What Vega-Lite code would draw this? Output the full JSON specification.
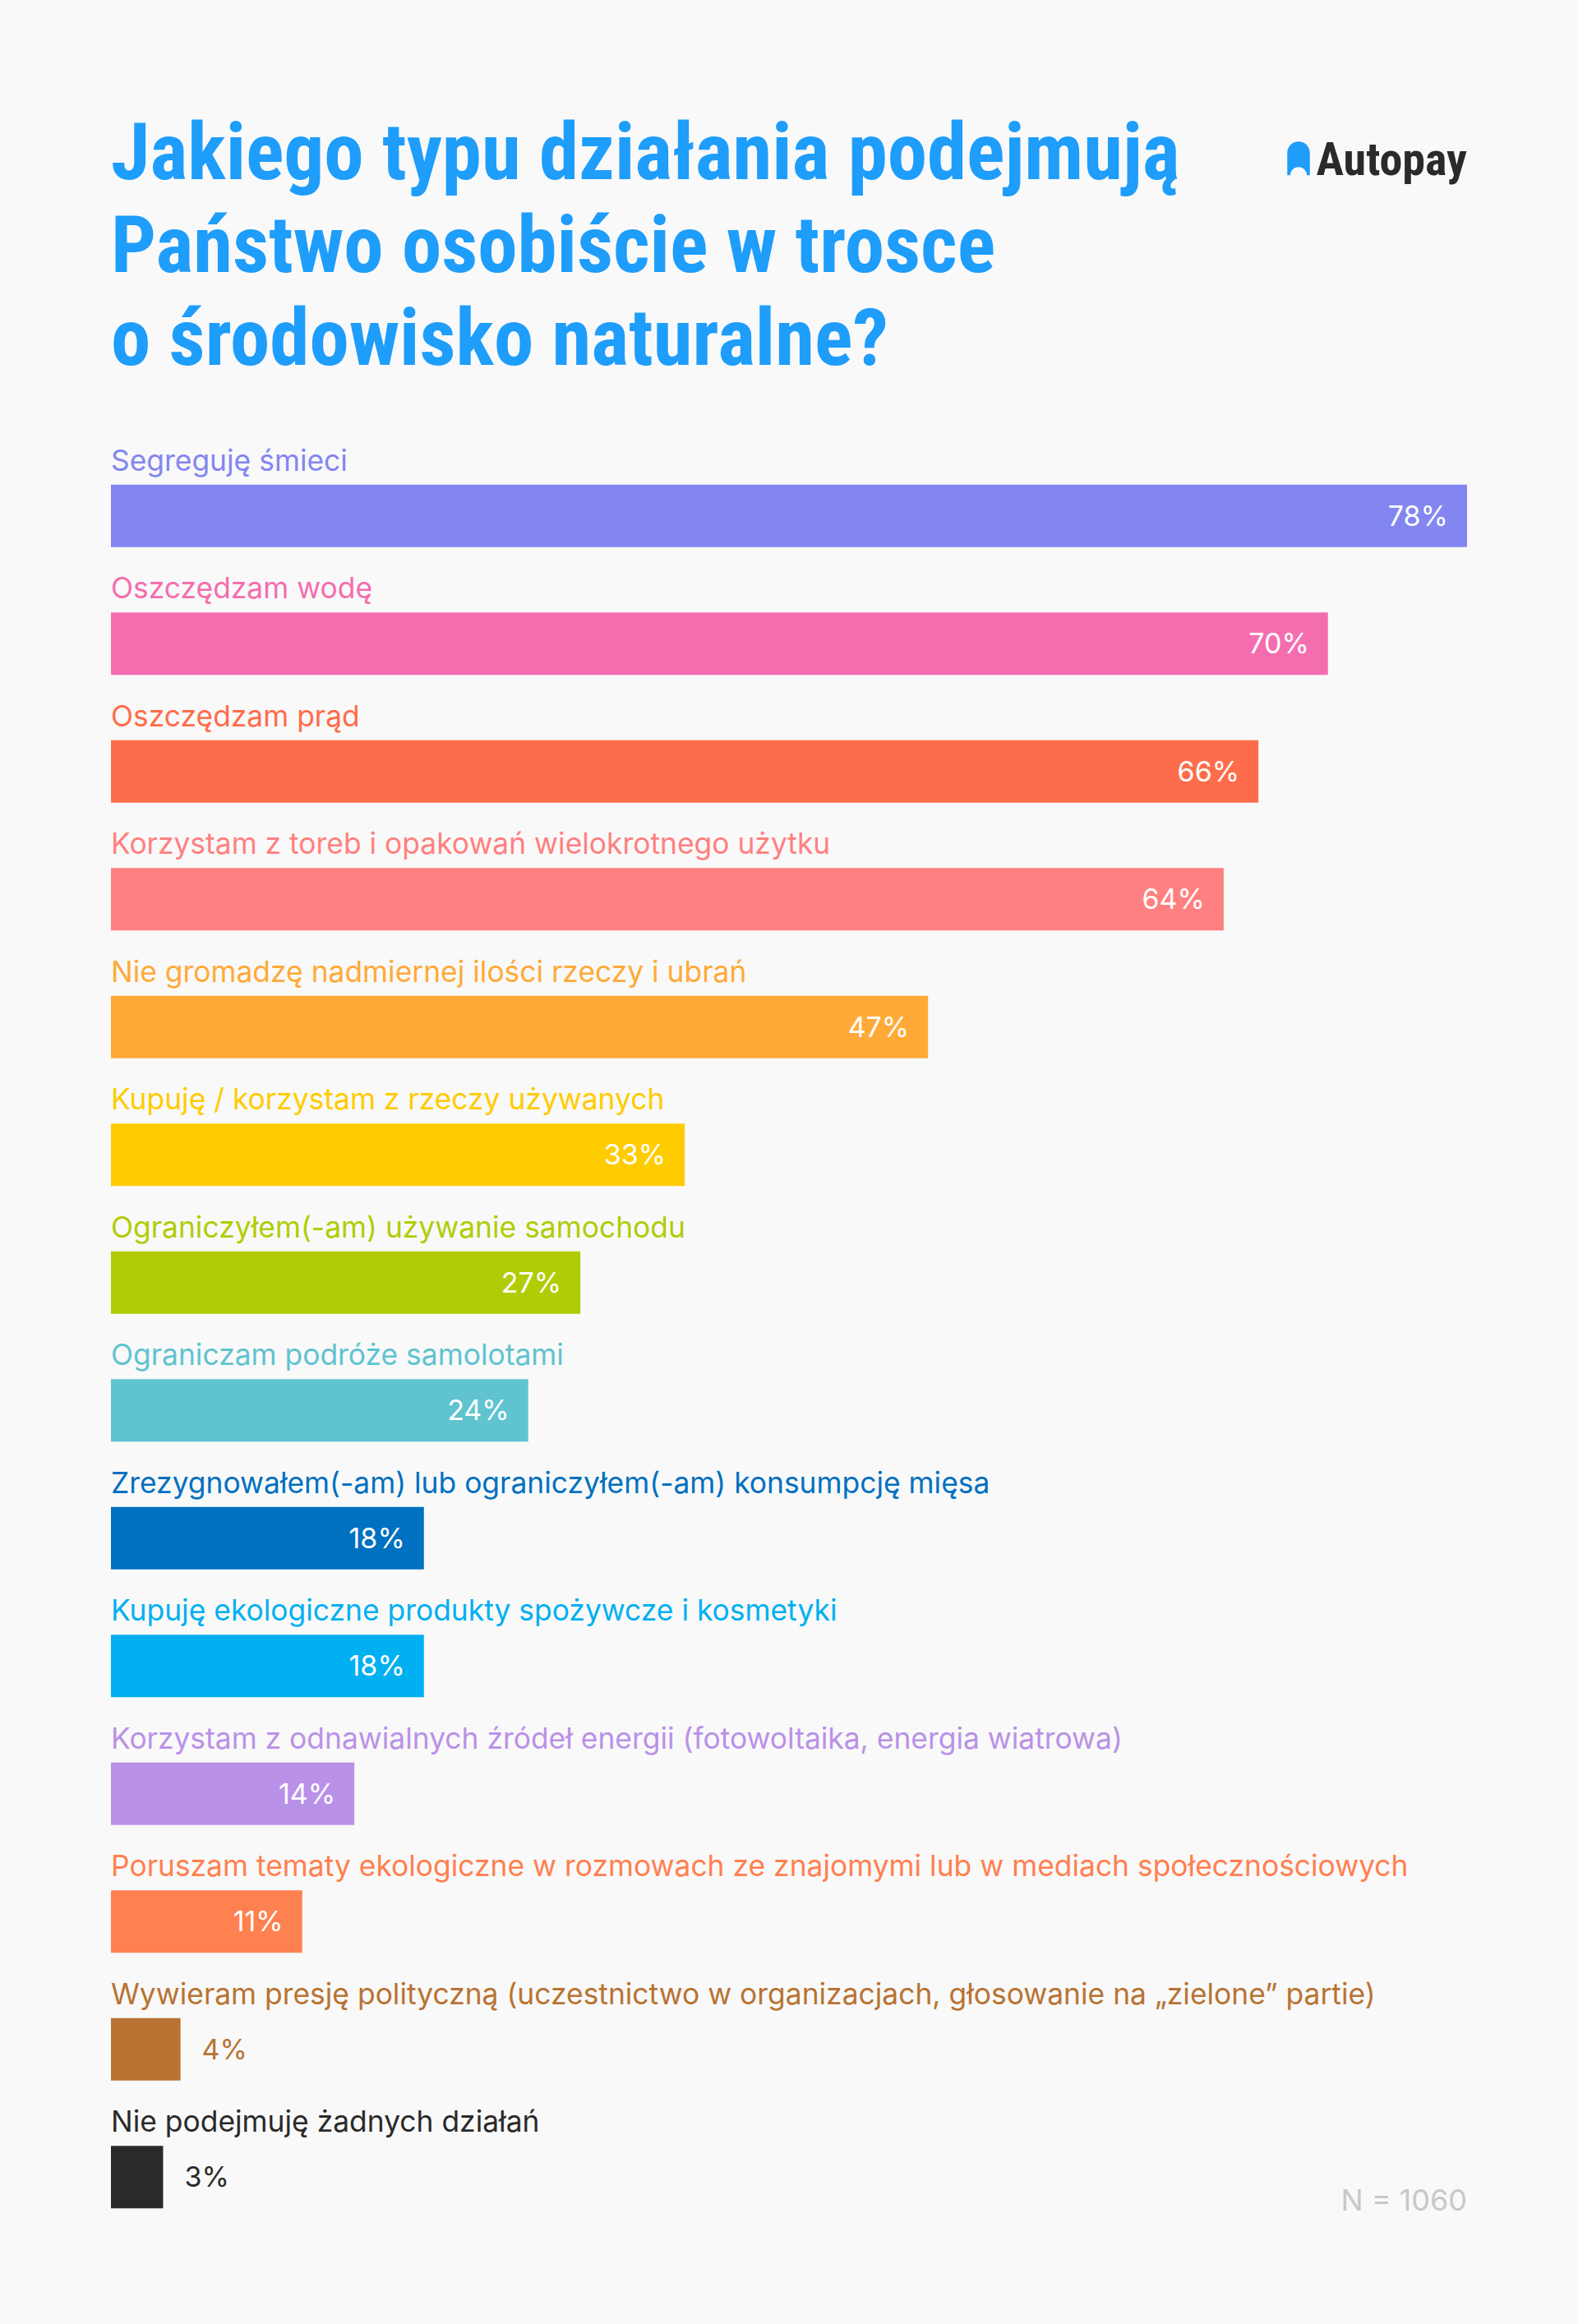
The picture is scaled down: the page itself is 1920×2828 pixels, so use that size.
{
  "$schema": "https://vega.github.io/schema/vega-lite/v6.json",
  "width": 1650,
  "height": {"step": 155.5},
  "autosize": {"type": "none"},
  "padding": {"left": 135, "top": 550, "right": 135, "bottom": 101},
  "background": "#F9F9F9",
  "config": {"view": {"stroke": null}},
  "title": {
    "text": ["Jakiego typu działania podejmują", "Państwo osobiście w trosce", "o środowisko naturalne?"],
    "anchor": "start",
    "frame": "group",
    "font": "Roboto Condensed, DejaVu Sans Condensed, sans-serif",
    "fontWeight": "bold",
    "fontSize": 97,
    "lineHeight": 113,
    "color": "#1E9DFB",
    "offset": 90,
    "dy": 386
  },
  "data": {
    "values": [
      {"label": "Segreguję śmieci", "value": 0.78},
      {"label": "Oszczędzam wodę", "value": 0.70},
      {"label": "Oszczędzam prąd", "value": 0.66},
      {"label": "Korzystam z toreb i opakowań wielokrotnego użytku", "value": 0.64},
      {"label": "Nie gromadzę nadmiernej ilości rzeczy i ubrań", "value": 0.47},
      {"label": "Kupuję / korzystam z rzeczy używanych", "value": 0.33},
      {"label": "Ograniczyłem(-am) używanie samochodu", "value": 0.27},
      {"label": "Ograniczam podróże samolotami", "value": 0.24},
      {"label": "Zrezygnowałem(-am) lub ograniczyłem(-am) konsumpcję mięsa", "value": 0.18},
      {"label": "Kupuję ekologiczne produkty spożywcze i kosmetyki", "value": 0.18},
      {"label": "Korzystam z odnawialnych źródeł energii (fotowoltaika, energia wiatrowa)", "value": 0.14},
      {"label": "Poruszam tematy ekologiczne w rozmowach ze znajomymi lub w mediach społecznościowych", "value": 0.11},
      {"label": "Wywieram presję polityczną (uczestnictwo w organizacjach, głosowanie na „zielone” partie)", "value": 0.04},
      {"label": "Nie podejmuję żadnych działań", "value": 0.03}
    ]
  },
  "encoding": {
    "y": {
      "field": "label", "type": "nominal", "sort": null, "axis": null,
      "scale": {"paddingInner": 0.511, "paddingOuter": 0.2555}
    }
  },
  "layer": [
    {
      "mark": {"type": "bar"},
      "encoding": {
        "x": {"field": "value", "type": "quantitative", "axis": null, "scale": {"domain": [0, 0.78], "nice": false, "zero": true}},
        "color": {
          "field": "label", "type": "nominal", "legend": null,
          "scale": {
            "domain": ["Segreguję śmieci", "Oszczędzam wodę", "Oszczędzam prąd", "Korzystam z toreb i opakowań wielokrotnego użytku", "Nie gromadzę nadmiernej ilości rzeczy i ubrań", "Kupuję / korzystam z rzeczy używanych", "Ograniczyłem(-am) używanie samochodu", "Ograniczam podróże samolotami", "Zrezygnowałem(-am) lub ograniczyłem(-am) konsumpcję mięsa", "Kupuję ekologiczne produkty spożywcze i kosmetyki", "Korzystam z odnawialnych źródeł energii (fotowoltaika, energia wiatrowa)", "Poruszam tematy ekologiczne w rozmowach ze znajomymi lub w mediach społecznościowych", "Wywieram presję polityczną (uczestnictwo w organizacjach, głosowanie na „zielone” partie)", "Nie podejmuję żadnych działań"],
            "range": ["#8386F0", "#F46EAF", "#FE6D4B", "#FF8080", "#FFAA38", "#FFCC00", "#B1CC05", "#60C3D0", "#0070C0", "#00B0F0", "#BA91E8", "#FF8050", "#B87333", "#2A2A2A"]
          }
        }
      }
    },
    {
      "mark": {"type": "text", "align": "left", "baseline": "alphabetic", "dy": -17, "font": "Inter, Noto Sans, sans-serif", "fontSize": 35.4},
      "encoding": {
        "x": {"datum": 0},
        "y": {"field": "label", "type": "nominal", "sort": null, "bandPosition": 0},
        "text": {"field": "label"},
        "color": {"field": "label", "type": "nominal", "legend": null}
      }
    },
    {
      "transform": [{"filter": "datum.value >= 0.1"}],
      "mark": {"type": "text", "align": "right", "baseline": "middle", "dx": -23, "dy": 2, "font": "Inter, Noto Sans, sans-serif", "fontSize": 34, "fill": "#FFFFFF"},
      "encoding": {
        "x": {"field": "value", "type": "quantitative"},
        "text": {"field": "value", "type": "quantitative", "format": ".0%"}
      }
    },
    {
      "transform": [{"filter": "datum.value < 0.1"}],
      "mark": {"type": "text", "align": "left", "baseline": "middle", "dx": 26, "dy": 2, "font": "Inter, Noto Sans, sans-serif", "fontSize": 34},
      "encoding": {
        "x": {"field": "value", "type": "quantitative"},
        "text": {"field": "value", "type": "quantitative", "format": ".0%"},
        "color": {"field": "label", "type": "nominal", "legend": null}
      }
    },
    {
      "data": {"values": [{"note": "N = 1060"}]},
      "mark": {"type": "text", "align": "right", "baseline": "alphabetic", "dy": 3, "font": "Inter, Noto Sans, sans-serif", "fontSize": 36, "fill": "#C8C8C8"},
      "encoding": {
        "x": {"datum": 0.78},
        "y": {"datum": "Nie podejmuję żadnych działań", "type": "nominal", "bandPosition": 1},
        "text": {"field": "note"}
      }
    },
    {
      "data": {"values": [{"brand": "Autopay"}]},
      "mark": {"type": "text", "align": "right", "baseline": "alphabetic", "dy": -377, "font": "Roboto Condensed, DejaVu Sans Condensed, sans-serif", "fontWeight": "bold", "fontSize": 56, "fill": "#2A2A2A"},
      "encoding": {
        "x": {"datum": 0.78},
        "y": {"datum": "Segreguję śmieci", "type": "nominal", "bandPosition": 0},
        "text": {"field": "brand"}
      }
    },
    {
      "data": {"values": [{"brand": "Autopay"}]},
      "mark": {"type": "point", "filled": true, "opacity": 1, "size": 1681, "color": "#1E9DFB", "shape": "M-0.67,1 L-0.67,-0.33 A0.67,0.67 0 0 1 0.67,-0.33 L0.67,1 L0.49,1 A0.49,0.49 0 0 0 -0.49,1 Z", "xOffset": -205, "yOffset": -397},
      "encoding": {
        "x": {"datum": 0.78},
        "y": {"datum": "Segreguję śmieci", "type": "nominal", "bandPosition": 0}
      }
    }
  ]
}
